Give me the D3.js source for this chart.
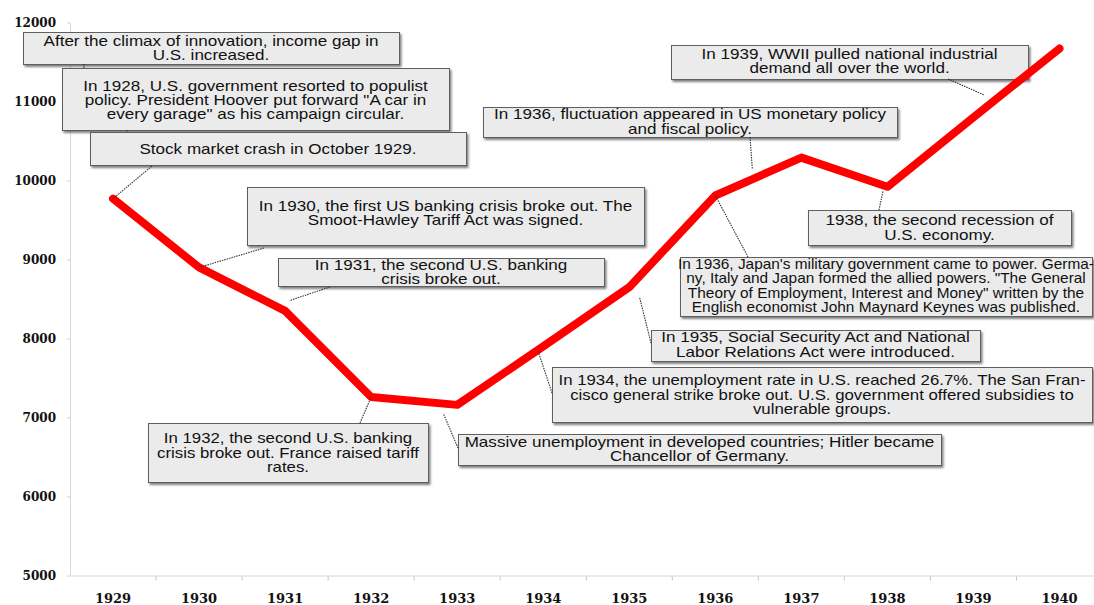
<!DOCTYPE html>
<html>
  <head>
    <meta charset="utf-8">
    <title>US economy 1929-1940</title>
    <script src="https://d3js.org/d3.v7.min.js"></script>
    <style>
      body { margin: 0; background: #fff; }
      svg { display: block; }
      .tick text { font-family: "DejaVu Serif", serif; font-weight: bold; fill: #111; }
      .note text { font-family: "Liberation Sans", Arial, sans-serif; font-size: 14px; fill: #111; }
    </style>
  </head>
  <body>
    <div id="chart"></div>
    <script>
      // series
      var years = [1929, 1930, 1931, 1932, 1933, 1934, 1935, 1936, 1937, 1938, 1939, 1940];
      var values = [9770, 8900, 8350, 7260, 7160, 7900, 8650, 9810, 10290, 9920, 10800, 11670];
      var yTicks = [5000, 6000, 7000, 8000, 9000, 10000, 11000, 12000];

      // annotation texts, one entry per box (lines as shown)
      var notes = [
        ["After the climax of innovation, income gap in", "U.S. increased."],
        ["In 1928, U.S. government resorted to populist", "policy. President Hoover put forward \"A car in", "every garage\" as his campaign circular."],
        ["Stock market crash in October 1929."],
        ["In 1930, the first US banking crisis broke out. The", "Smoot-Hawley Tariff Act was signed."],
        ["In 1931, the second U.S. banking", "crisis broke out."],
        ["In 1932, the second U.S. banking", "crisis broke out. France raised tariff", "rates."],
        ["Massive unemployment in developed countries; Hitler became", "Chancellor of Germany."],
        ["In 1934, the unemployment rate in U.S. reached 26.7%. The San Fran-", "cisco general strike broke out. U.S. government offered subsidies to", "vulnerable groups."],
        ["In 1935, Social Security Act and National", "Labor Relations Act were introduced."],
        ["In 1936, Japan's military government came to power. Germa-", "ny, Italy and Japan formed the allied powers. \"The General", "Theory of Employment, Interest and Money\" written by the", "English economist John Maynard Keynes was published."],
        ["In 1936, fluctuation appeared in US monetary policy", "and fiscal policy."],
        ["1938, the second recession of", "U.S. economy."],
        ["In 1939, WWII pulled national industrial", "demand all over the world."]
      ];

      // where each note points to on the chart (year may be fractional)
      var pointsTo = [
        {year: 1928.66, value: 11420},
        {year: 1929.16, value: 10610},
        {year: 1929},
        {year: 1930},
        {year: 1931.05, value: 8480},
        {year: 1932},
        {year: 1932.84, value: 7050},
        {year: 1933.94, value: 7840},
        {year: 1935.12, value: 8520},
        {year: 1936},
        {year: 1936.43, value: 10150},
        {year: 1937.95, value: 9870},
        {year: 1939.13, value: 11080}
      ];

      // layout of the boxes: [x0, y0, x1, y1], leader start, line height, text shift, stretch
      var boxLayout = [
        {r: [23, 32, 399, 64], from: [84, 64], lh: 14, dy: 0, sx: 1.22},
        {r: [62, 68, 449, 130], from: [127, 130], lh: 14, dy: 1, sx: 1.22},
        {r: [90, 132, 466, 165], from: [152, 166], lh: 14, dy: 0, sx: 1.22},
        {r: [247, 187, 644, 245], from: [264, 248], lh: 14, dy: -3, sx: 1.22},
        {r: [278, 258, 604, 286], from: [330, 287], lh: 14, dy: 0, sx: 1.22},
        {r: [148, 423, 428, 482], from: [360, 423], lh: 14.2, dy: 0, sx: 1.2},
        {r: [458, 434, 941, 465], from: [458, 448], lh: 14.3, dy: -0.5, sx: 1.22},
        {r: [552, 367, 1092, 422], from: [552, 393], lh: 14.4, dy: 0, sx: 1.2},
        {r: [651, 330, 980, 361], from: [651, 343], lh: 14.3, dy: -1, sx: 1.22},
        {r: [680, 257, 1092, 316], from: [748, 257], lh: 14.3, dy: -1, sx: 1.1},
        {r: [483, 107, 897, 137], from: [750, 137], lh: 14.5, dy: -0.3, sx: 1.22},
        {r: [808, 210, 1071, 245], from: [879, 210], lh: 14.3, dy: 0, sx: 1.22},
        {r: [671, 45, 1028, 79], from: [948, 79], lh: 14.3, dy: -1, sx: 1.22}
      ];

      var width = 1094, height = 605;
      var svg = d3.select("#chart").append("svg")
          .attr("width", width).attr("height", height);

      var defs = svg.append("defs");
      defs.append("filter").attr("id", "shadow")
          .attr("x", "-5%").attr("y", "-20%").attr("width", "115%").attr("height", "160%")
        .append("feDropShadow")
          .attr("dx", 1.5).attr("dy", 2).attr("stdDeviation", 1)
          .attr("flood-color", "#000").attr("flood-opacity", 0.5);

      var x = d3.scaleBand().domain(years).range([70, 1102.5]).padding(0);
      var y = d3.scaleLinear().domain([5000, 12000]).range([575.5, 22.5]);

      function xAt(yr) {
        return x(years[0]) + x.bandwidth() / 2 + (yr - years[0]) * x.step();
      }

      // y axis
      var yAxis = svg.append("g")
          .attr("transform", "translate(70,0)")
          .call(d3.axisLeft(y).tickValues(yTicks).tickFormat(d3.format("d"))
                .tickSize(3).tickPadding(11).tickSizeOuter(0));
      yAxis.select(".domain").attr("stroke", "#d9d9d9");
      yAxis.selectAll(".tick line").attr("stroke", "#d0d0d0");
      yAxis.selectAll(".tick text").style("font-size", "12px").attr("dy", "0.36em");

      // x axis: labels centred, tick marks between the years
      var xAxis = svg.append("g")
          .attr("transform", "translate(0," + y(5000) + ")")
          .call(d3.axisBottom(x).tickSize(0).tickPadding(18).tickSizeOuter(0));
      xAxis.select(".domain").attr("stroke", "#e3e3e3").attr("stroke-width", 1.5);
      xAxis.selectAll(".tick text").style("font-size", "13px");
      xAxis.selectAll(".sep").data(years.slice(1)).enter().append("line")
          .attr("class", "sep")
          .attr("x1", function (d) { return x(d); })
          .attr("x2", function (d) { return x(d); })
          .attr("y1", 1).attr("y2", 5)
          .attr("stroke", "#c4c4c4");

      // annotation boxes
      var note = svg.selectAll(".note").data(notes).enter().append("g")
          .attr("class", "note");
      note.append("rect")
          .attr("x", function (d, i) { return boxLayout[i].r[0] + 0.5; })
          .attr("y", function (d, i) { return boxLayout[i].r[1] + 0.5; })
          .attr("width", function (d, i) { return boxLayout[i].r[2] - boxLayout[i].r[0]; })
          .attr("height", function (d, i) { return boxLayout[i].r[3] - boxLayout[i].r[1]; })
          .attr("fill", "#ebebeb")
          .attr("stroke", "#5f5f5f")
          .attr("stroke-width", 1)
          .attr("filter", "url(#shadow)");

      note.each(function (lines, i) {
        var b = boxLayout[i];
        var cx = (b.r[0] + b.r[2]) / 2;
        var cy = (b.r[1] + b.r[3]) / 2 + b.dy;
        var g = d3.select(this).append("g")
            .attr("transform", "translate(" + cx + "," + cy + ") scale(" + b.sx + ",1)");
        g.selectAll("text").data(lines).enter().append("text")
            .attr("text-anchor", "middle")
            .attr("x", 0)
            .attr("y", function (d, j) { return (j - (lines.length - 1) / 2) * b.lh + 5; })
            .text(function (d) { return d; });
      });

      // the series line
      var line = d3.line()
          .x(function (d, i) { return x(years[i]) + x.bandwidth() / 2; })
          .y(function (d) { return y(d); });
      svg.append("path")
          .datum(values)
          .attr("d", line)
          .attr("fill", "none")
          .attr("stroke", "#ff0000")
          .attr("stroke-width", 8)
          .attr("stroke-linejoin", "round")
          .attr("stroke-linecap", "round");

      // leaders from the boxes to the chart
      svg.selectAll(".leader").data(pointsTo).enter().append("line")
          .attr("class", "leader")
          .attr("x1", function (d, i) { return boxLayout[i].from[0]; })
          .attr("y1", function (d, i) { return boxLayout[i].from[1]; })
          .attr("x2", function (d) { return xAt(d.year); })
          .attr("y2", function (d) {
            var v = d.value !== undefined ? d.value : values[years.indexOf(d.year)];
            return y(v);
          })
          .attr("stroke", "#333")
          .attr("stroke-width", 1.1)
          .attr("stroke-dasharray", "1.5,1");
    </script>
  </body>
</html>
